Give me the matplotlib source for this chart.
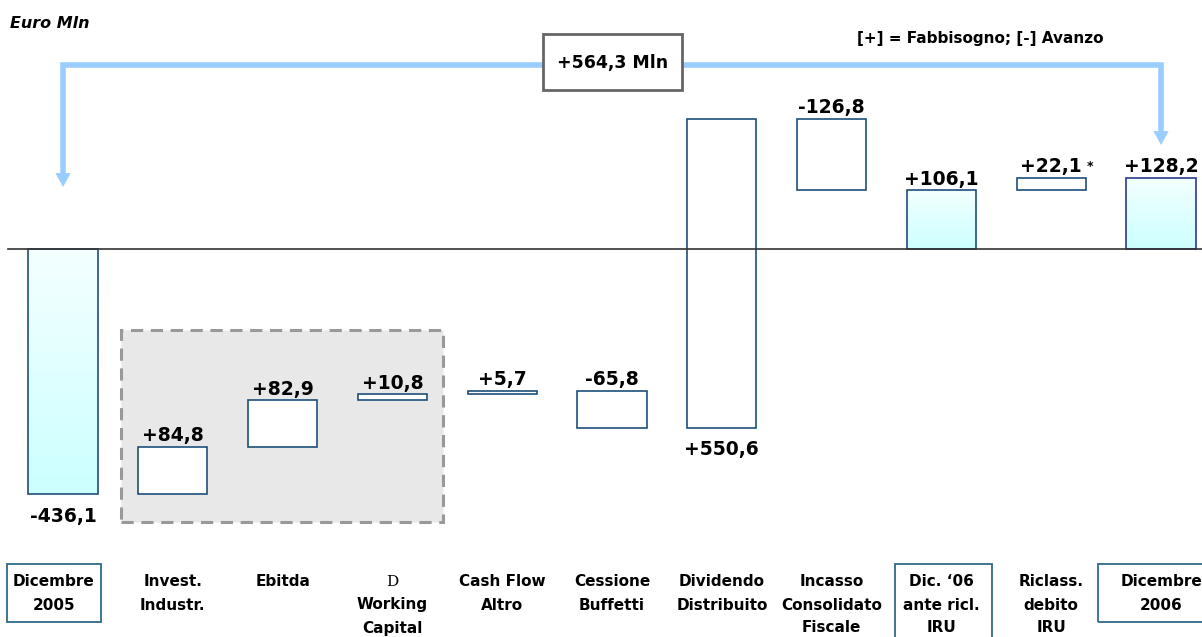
import numpy as np
import matplotlib.pyplot as plt
from matplotlib.patches import Rectangle
from matplotlib.colors import LinearSegmentedColormap
from matplotlib.transforms import blended_transform_factory

# Rendiconto finanziario: variazione posizione finanziaria netta (Euro Mln)
categorie = ["Dicembre\n2005", "Invest.\nIndustr.", "Ebitda", "D\nWorking\nCapital",
             "Cash Flow\nAltro", "Cessione\nBuffetti", "Dividendo\nDistribuito",
             "Incasso\nConsolidato\nFiscale", "Dic. \u201806\nante ricl.\nIRU",
             "Riclass.\ndebito\nIRU", "Dicembre\n2006"]
valori = [-436.1, 84.8, 82.9, 10.8, 5.7, -65.8, 550.6, -126.8, 106.1, 22.1, 128.2]
etichette = ["-436,1", "+84,8", "+82,9", "+10,8", "+5,7", "-65,8", "+550,6",
             "-126,8", "+106,1", "+22,1", "+128,2"]
totali = [0, 8, 10]        # barre di saldo, partono da zero
sotto = [0, 6]             # valore scritto sotto la barra
delta_totale = "+564,3 Mln"

# basi e altezze del waterfall
basi, altezze = [], []
cum = 0.0
for i, v in enumerate(valori):
    if i in totali:
        if i == 0:
            cum = v
        basi.append(0.0)
        altezze.append(cum)
    else:
        basi.append(cum)
        altezze.append(v)
        cum += v

W, H = 1202, 637
fig = plt.figure(figsize=(W / 100, H / 100), dpi=100)
ax = fig.add_axes([0, 0, 1, 1])
ax.set_xlim(-0.574, 10.373)
ax.set_ylim(-690.7, 444.7)
ax.axis("off")

edge = "#1f4e7a"
larg = 0.63
grad = LinearSegmentedColormap.from_list("azz", ["#f4ffff", "#ccffff"])
yf = blended_transform_factory(ax.transData, ax.transAxes)

# riquadro grigio tratteggiato dietro le voci operative
ax.add_patch(Rectangle((0.528, -486.6), 2.93, 343.1, facecolor="#e8e8e8",
                       edgecolor="#999999", linestyle=(0, (4, 2.5)), lw=2.2, zorder=1))

x = np.arange(len(valori))
bars = ax.bar(x, altezze, bottom=basi, width=larg, facecolor="white",
              edgecolor=edge, linewidth=1.2, zorder=3)

for i in totali:
    b = bars[i]
    x0, y0 = b.get_x(), b.get_y()
    w, h = b.get_width(), b.get_height()
    lo, hi = min(y0, y0 + h), max(y0, y0 + h)
    b.set_facecolor("none")
    img = ax.imshow(np.linspace(0, 1, 64).reshape(-1, 1), cmap=grad, aspect="auto",
                    extent=(x0, x0 + w, lo, hi), zorder=2.5, origin="upper")
    img.set_clip_path(b)
    if i == 10:
        b.set_edgecolor("#2b3a8c")

# linea dello zero
ax.plot([-0.5, 10.5], [0, 0], color="#333333", lw=1.2, zorder=4)

# etichette dei valori
for i, b in enumerate(bars):
    y0, h = b.get_y(), b.get_height()
    top, bot = max(y0, y0 + h), min(y0, y0 + h)
    if i in sotto:
        ax.annotate(etichette[i], (i, bot), xytext=(0, -9), textcoords="offset points",
                    ha="center", va="top", fontsize=13.5, fontweight="bold", zorder=5)
    else:
        ax.annotate(etichette[i], (i, top), xytext=(0, 1), textcoords="offset points",
                    ha="center", va="bottom", fontsize=13.5, fontweight="bold", zorder=5)
ax.annotate("*", (9, basi[9] + altezze[9]), xytext=(28, 3), textcoords="offset points",
            ha="center", va="bottom", fontsize=9, fontweight="bold")

# etichette di categoria (la prima è centrata nella sua cornice)
for i, c in enumerate(categorie):
    xc = i - 0.085 if i == 0 else i
    t = c.split("\n")
    if c.startswith("D\n"):
        ax.text(xc, 1 - 582 / H, "D", transform=yf, ha="center", va="center",
                fontsize=11, family="DejaVu Serif")
        t[0] = ""
    for k, riga in enumerate(t):
        ax.text(xc, 1 - (582 + 23 * k) / H, riga, transform=yf, ha="center",
                va="center", fontsize=11, fontweight="bold")

# cornici attorno alle etichette dei saldi (pixel: x0, x1, y0, y1)
cornici = [(7, 101, 564, 622), (895, 992, 564, 640), (1098, 1210, 564, 622)]
for x0, x1, y0, y1 in cornici:
    ax.add_patch(Rectangle((x0 / W, 1 - y1 / H), (x1 - x0) / W, (y1 - y0) / H,
                           transform=fig.transFigure, facecolor="none",
                           edgecolor="#2f6a8a", lw=1.3, clip_on=False))

# freccia di collegamento fra i due saldi
freccia = "#99ccff"
y_alto = 1 - 65 / H
ax.plot([0, 0, 10, 10], [1 - 178 / H, y_alto, y_alto, 1 - 136 / H],
        transform=yf, color=freccia, lw=4, solid_joinstyle="miter", zorder=2)
for xi, ytip in [(0, 187), (10, 145)]:
    ax.annotate("", xy=(xi, 1 - ytip / H), xytext=(xi, 1 - (ytip - 16) / H),
                xycoords=yf, textcoords=yf,
                arrowprops=dict(arrowstyle="-|>,head_length=1.0,head_width=0.55",
                                color=freccia, lw=0, shrinkA=0, shrinkB=0))

# riquadro con la variazione complessiva
ax.add_patch(Rectangle((543 / W, 1 - 90 / H), 139 / W, 56 / H, transform=fig.transFigure,
                       facecolor="white", edgecolor="#666666", lw=2, zorder=6))
fig.text(613 / W, 1 - 63 / H, delta_totale, ha="center", va="center",
         fontsize=12.5, fontweight="bold", zorder=7)

fig.text(10 / W, 1 - 24 / H, "Euro Mln", ha="left", va="center",
         fontsize=11.5, fontweight="bold", style="italic")
fig.text(980 / W, 1 - 38 / H, "[+] = Fabbisogno; [-] Avanzo", ha="center",
         va="center", fontsize=11, fontweight="bold")

fig.savefig("out.png", dpi=100)
